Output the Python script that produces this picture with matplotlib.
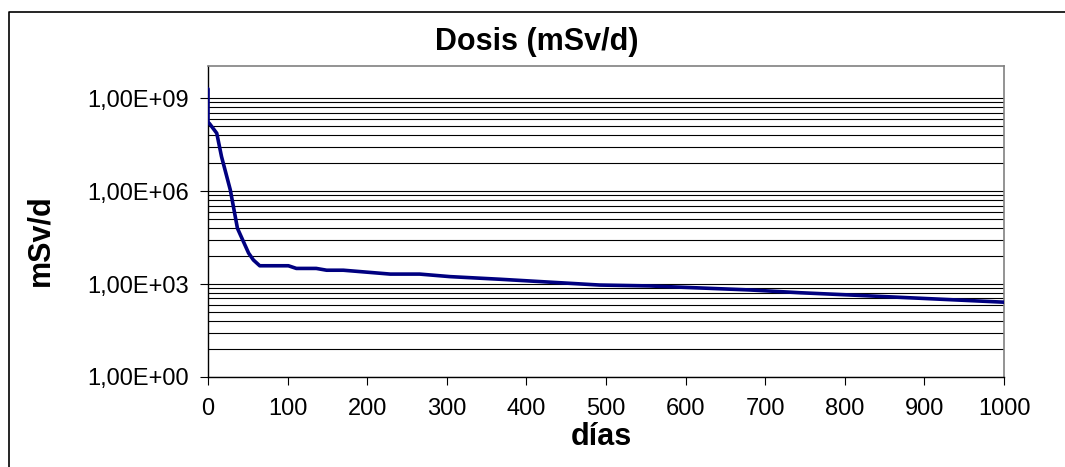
import matplotlib
matplotlib.use("Agg")
from matplotlib import pyplot as plt
from matplotlib.lines import Line2D

# dose curve
days = [0, 0, 2, 11, 17, 28, 37, 51, 57, 65, 101, 111, 136, 149, 170,
        229, 266, 304, 367, 492, 555, 681, 744, 806, 1000]
dose = [2.0e9, 1.7e8, 1.5e8, 7.4e7, 1.3e7, 1.1e6, 6.3e4, 1.0e4, 6.0e3, 3.9e3,
        3.9e3, 3.2e3, 3.2e3, 2.8e3, 2.8e3, 2.1e3, 2.1e3, 1.74e3, 1.43e3,
        9.3e2, 8.7e2, 6.45e2, 5.25e2, 4.45e2, 2.6e2]

x_ticks = list(range(0, 1001, 100))
y_ticks = [1e0, 1e3, 1e6, 1e9]
y_labels = ["1,00E+00", "1,00E+03", "1,00E+06", "1,00E+09"]

plt.rcParams['font.family'] = ['Liberation Sans', 'DejaVu Sans']

W, H = 1065, 467
fig = plt.figure(figsize=(W / 100, H / 100), dpi=100)
ax = fig.add_axes([208 / W, 1 - 377 / H, 796 / W, 311 / H])

# gridlines: decades of 1000 with cube-spaced minor lines (like Excel)
minor = [base * k ** 3 for base in (1e0, 1e3, 1e6) for k in range(2, 10)]
for v in y_ticks + minor:
    ax.axhline(v, color='black', lw=0.8, zorder=1)

ax.plot(days, dose, color='#000080', lw=2.6, zorder=3,
        solid_joinstyle='round', solid_capstyle='round')

ax.set_yscale('log')
ax.set_ylim(1, 10 ** 10.04)
ax.set_xlim(0, 1000)
ax.set_yticks(y_ticks)
ax.set_yticklabels(y_labels)
ax.set_yticks([], minor=True)
ax.set_xticks(x_ticks)

ax.tick_params(axis='both', which='major', labelsize=17, direction='out',
               length=5.8, width=0.8, color='black')
ax.tick_params(axis='y', pad=8)
ax.tick_params(axis='x', pad=9)

for side in ('top', 'right'):
    ax.spines[side].set_color('#808080')
    ax.spines[side].set_linewidth(1.2)
for side in ('left', 'bottom'):
    ax.spines[side].set_color('black')
    ax.spines[side].set_linewidth(1.0)

fig.text(537 / W, 1 - 42 / H, "Dosis (mSv/d)", fontsize=22, fontweight='bold',
         ha='center', va='center')
fig.text(601 / W, 1 - 437 / H, "días", fontsize=22, fontweight='bold',
         ha='center', va='center')
fig.text(40 / W, 1 - 240 / H, "mSv/d", fontsize=22, fontweight='bold',
         ha='center', va='center', rotation=90)

# chart-area border (left and top edges visible)
fig.add_artist(Line2D([8.5 / W, 8.5 / W, 1.0], [0.0, 1 - 12 / H, 1 - 12 / H],
                      transform=fig.transFigure, color='black', lw=1.2))

fig.savefig("out.png", dpi=100)
